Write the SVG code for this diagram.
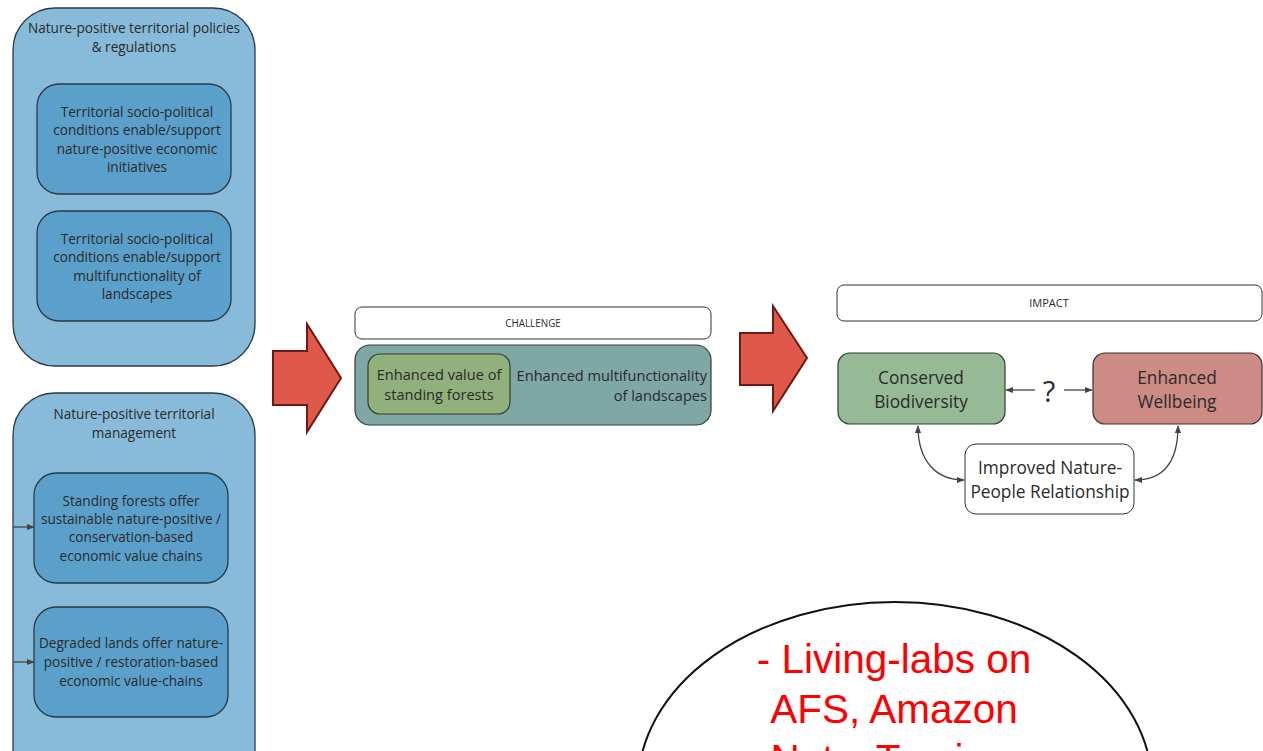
<svg xmlns="http://www.w3.org/2000/svg" width="1263" height="751" viewBox="0 0 1263 751">
<defs>
<style>
.t{font-family:"Open Sans","Noto Sans",sans-serif;fill:#2a2a2a;text-anchor:middle}
.s{font-size:13.6px}
.m{font-size:14.6px}
.b{font-size:17.3px}
.outer{fill:#88bbd9;stroke:#2b3a44;stroke-width:1.3}
.inner{fill:#5aa0ca;stroke:#2b3a44;stroke-width:1.3}
.bigarrow{fill:#e0584a;stroke:#6b1a14;stroke-width:2}
.conn{fill:none;stroke:#444;stroke-width:1.3}
.lbl{fill:#fff;stroke:#333;stroke-width:1}
.red{font-family:"Liberation Sans",Arial,sans-serif;font-size:40.5px;fill:#ff0000;text-anchor:middle}
</style>
<marker id="ah" viewBox="0 0 10 10" refX="9" refY="5" markerWidth="8" markerHeight="8" orient="auto-start-reverse" markerUnits="userSpaceOnUse">
<path d="M0,1 L10,5 L0,9 Z" fill="#444"/>
</marker>
</defs>
<rect width="1263" height="751" fill="#fff"/>

<g id="policies">
<rect class="outer" x="13" y="8" width="242" height="358" rx="42"/>
<text class="t s" x="134" y="33">Nature-positive territorial policies</text>
<text class="t s" x="134" y="52">&amp; regulations</text>
</g>
<g id="socio1">
<rect class="inner" x="37" y="84" width="194" height="110" rx="22"/>
<text class="t s" x="137" y="117">Territorial socio-political</text>
<text class="t s" x="137" y="135">conditions enable/support</text>
<text class="t s" x="137" y="154">nature-positive economic</text>
<text class="t s" x="137" y="172">initiatives</text>
</g>
<g id="socio2">
<rect class="inner" x="37" y="211" width="194" height="110" rx="22"/>
<text class="t s" x="137" y="244">Territorial socio-political</text>
<text class="t s" x="137" y="262">conditions enable/support</text>
<text class="t s" x="137" y="281">multifunctionality of</text>
<text class="t s" x="137" y="299">landscapes</text>
</g>

<g id="management">
<rect class="outer" x="13" y="393" width="242" height="400" rx="42"/>
<text class="t s" x="134" y="419">Nature-positive territorial</text>
<text class="t s" x="134" y="438">management</text>
</g>
<g id="standing">
<rect class="inner" x="34" y="473" width="194" height="110" rx="22"/>
<text class="t s" x="131" y="506">Standing forests offer</text>
<text class="t s" x="131" y="524">sustainable nature-positive /</text>
<text class="t s" x="131" y="542">conservation-based</text>
<text class="t s" x="131" y="561">economic value chains</text>
</g>
<g id="degraded">
<rect class="inner" x="34" y="607" width="194" height="110" rx="22"/>
<text class="t s" x="131" y="648">Degraded lands offer nature-</text>
<text class="t s" x="131" y="667">positive / restoration-based</text>
<text class="t s" x="131" y="686">economic value-chains</text>
</g>

<g id="arrow1">
<polygon class="bigarrow" points="273,351 307,351 307,324 341,378 307,432 307,405 273,405"/>
</g>
<g id="arrow2">
<polygon class="bigarrow" points="740,333 773,333 773,306 807,358 773,411 773,385 740,385"/>
</g>

<g id="challenge">
<rect class="lbl" x="355" y="307" width="356" height="32" rx="7"/>
<text class="t" font-size="9.9" x="533" y="327">CHALLENGE</text>
</g>
<g id="multifunc">
<rect fill="#7ea7a6" stroke="#2f3e3e" stroke-width="1.2" x="355" y="345" width="356" height="80" rx="15"/>
<text class="t m" x="707" y="381" style="text-anchor:end">Enhanced multifunctionality</text>
<text class="t m" x="707" y="401" style="text-anchor:end">of landscapes</text>
</g>
<g id="standingvalue">
<rect fill="#92b07b" stroke="#2f3e2a" stroke-width="1.2" x="368" y="354" width="142" height="60" rx="12"/>
<text class="t m" x="439" y="380">Enhanced value of</text>
<text class="t m" x="439" y="400">standing forests</text>
</g>

<g id="impact">
<rect class="lbl" x="837" y="285" width="425" height="36" rx="7"/>
<text class="t" font-size="11" x="1049" y="307">IMPACT</text>
</g>
<g id="biodiversity">
<rect fill="#96ba96" stroke="#2f3e2f" stroke-width="1.2" x="838" y="353" width="167" height="71" rx="12"/>
<text class="t b" x="921" y="384">Conserved</text>
<text class="t b" x="921" y="408">Biodiversity</text>
</g>
<g id="wellbeing">
<rect fill="#cc8b85" stroke="#3e2f2f" stroke-width="1.2" x="1093" y="353" width="169" height="71" rx="12"/>
<text class="t b" x="1177" y="384">Enhanced</text>
<text class="t b" x="1177" y="408">Wellbeing</text>
</g>
<g id="relationship">
<rect class="lbl" x="965" y="444" width="169" height="70" rx="11"/>
<text class="t b" x="1050" y="474">Improved Nature-</text>
<text class="t b" x="1050" y="498">People Relationship</text>
</g>
<g id="question">
<text class="t" font-size="29" x="1049" y="402">?</text>
</g>

<g id="connectors">
<line class="conn" x1="13" y1="527" x2="34" y2="527" marker-end="url(#ah)"/>
<line class="conn" x1="13" y1="662" x2="34" y2="662" marker-end="url(#ah)"/>
<line class="conn" x1="1035" y1="390" x2="1006" y2="390" marker-end="url(#ah)"/>
<line class="conn" x1="1064" y1="390" x2="1092" y2="390" marker-end="url(#ah)"/>
<path class="conn" d="M918,426 C918,460 935,480 964,480" marker-start="url(#ah)" marker-end="url(#ah)"/>
<path class="conn" d="M1135,480 C1165,480 1178,460 1178,426" marker-start="url(#ah)" marker-end="url(#ah)"/>
</g>

<g id="livinglabs">
<ellipse cx="895" cy="786" rx="257" ry="184" fill="#fff" stroke="#111" stroke-width="2"/>
<text class="red" x="894" y="673">- Living-labs on</text>
<text class="red" x="894" y="723">AFS, Amazon</text>
<text class="red" x="894" y="773">Nuts, Tourism</text>
</g>
</svg>
